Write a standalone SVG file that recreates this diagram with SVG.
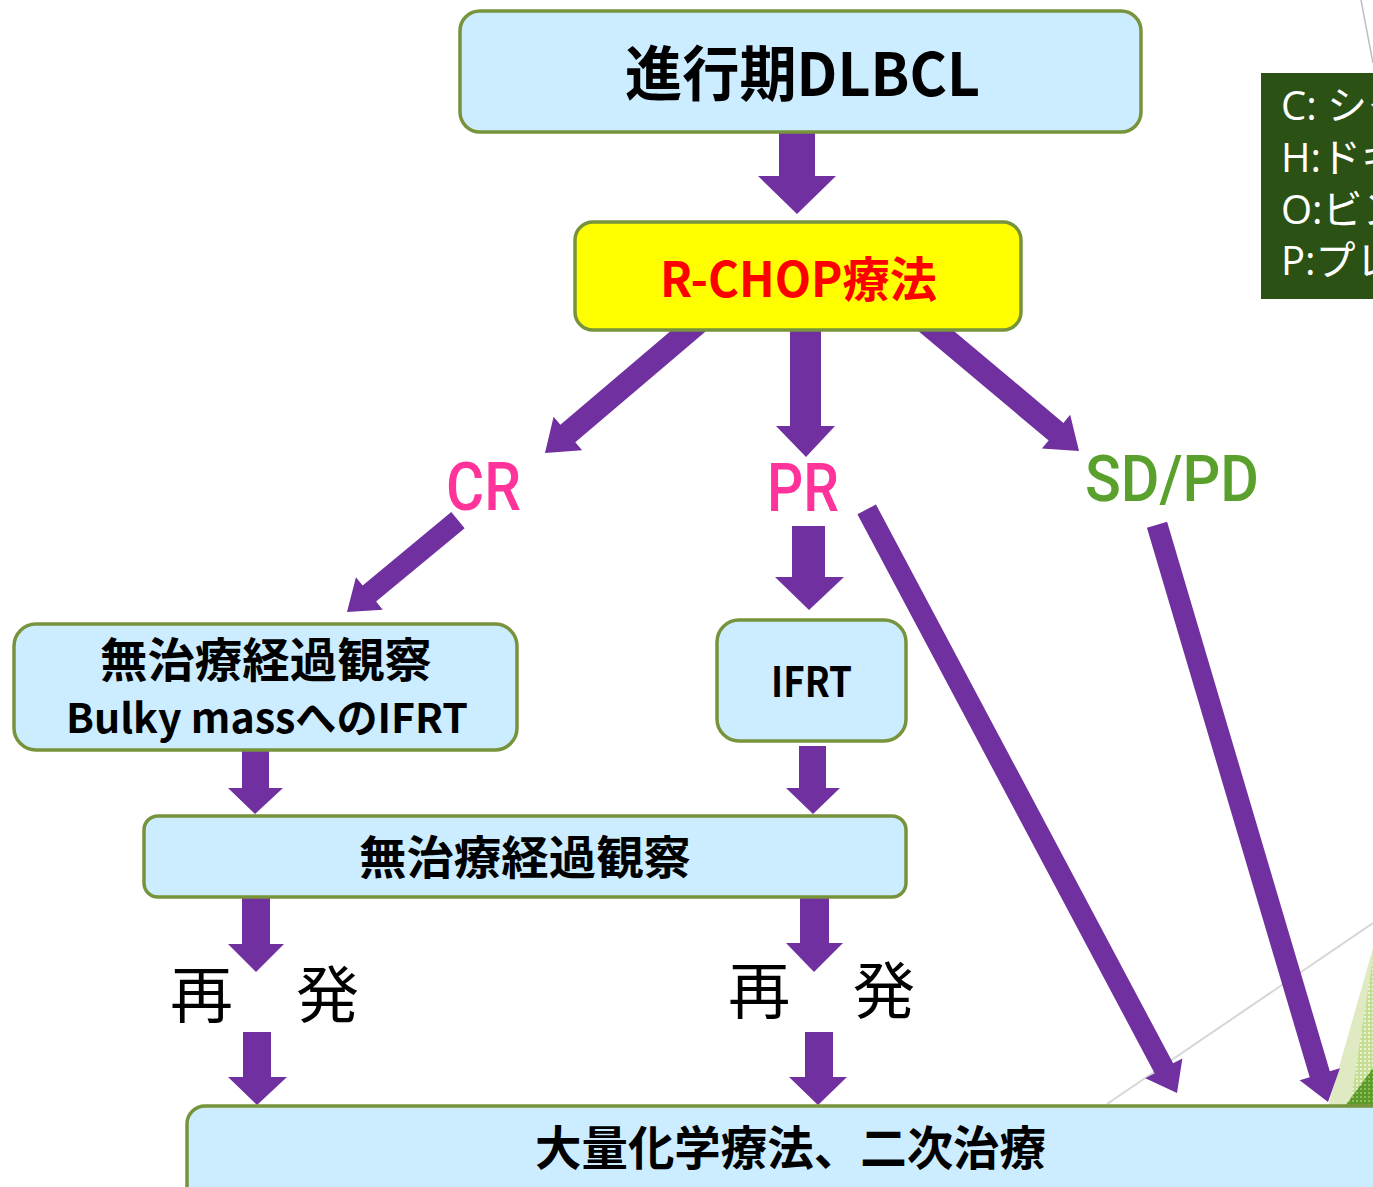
<svg xmlns="http://www.w3.org/2000/svg" width="1373" height="1187" viewBox="0 0 1373 1187">
  <style>
    .box { fill: #CCECFF; stroke: #77933C; stroke-width: 3.5; }
    .boxy { fill: #FFFF00; stroke: #77933C; stroke-width: 3.5; }
    .arr { fill: #7030A0; }
    .bt { font-family: "Noto Sans CJK JP", "Noto Sans", sans-serif; font-weight: 700; fill: #000; }
    .lab { font-family: Roboto, "Noto Sans", sans-serif; font-weight: 500; }
    .rel { font-family: "Noto Sans CJK JP", sans-serif; font-weight: 400; font-size: 62px; fill: #000; }
    .leg { font-family: "Open Sans", "Noto Sans CJK JP", sans-serif; font-size: 40px; fill: #FFFFFF; }
  </style>
  <defs>
    <pattern id="dotsLight" width="4" height="4" patternUnits="userSpaceOnUse">
      <rect width="4" height="4" fill="#c4dd92"/>
      <rect width="2" height="2" fill="#eaf3d6"/>
    </pattern>
    <pattern id="dotsDark" width="4" height="4" patternUnits="userSpaceOnUse">
      <rect width="4" height="4" fill="#5c9a2a"/>
      <rect width="2" height="2" fill="#8fbe5c"/>
    </pattern>
  </defs>
  <rect width="1373" height="1187" fill="#FFFFFF"/>

  <!-- background decoration -->
  <g id="decoration">
    <line x1="1361" y1="0" x2="1373" y2="63" stroke="#bfbfbf" stroke-width="1.5"/>
    <line x1="1107" y1="1104" x2="1373" y2="923" stroke="#d6d6d6" stroke-width="2"/>
    <polygon points="1328,1106 1373,948 1373,1106" fill="#dfeac2"/>
    <polygon points="1350,1106 1373,958 1373,1106" fill="url(#dotsLight)"/>
    <polygon points="1345,1106 1373,1068 1373,1106" fill="url(#dotsDark)"/>
  </g>

  <g id="connectors">
    <polygon class="arr" points="779,128 815,128 815,176 836,176 797,214 758,176 779,176"/>
    <path class="arr" transform="translate(545,453) rotate(139.6)" d="M0,0 L-30,-22 L-30,-11.5 L-208,-11.5 L-208,11.5 L-30,11.5 L-30,22 Z"/>
    <polygon class="arr" points="790,325 821,325 821,426 835,426 806,457 776,426 790,426"/>
    <path class="arr" transform="translate(1079,451) rotate(40)" d="M0,0 L-30,-22 L-30,-11.5 L-208,-11.5 L-208,11.5 L-30,11.5 L-30,22 Z"/>
    <path class="arr" transform="translate(347,612) rotate(140.4)" d="M0,0 L-29,-21 L-29,-10.5 L-144,-10.5 L-144,10.5 L-29,10.5 L-29,21 Z"/>
    <polygon class="arr" points="792,526 825,526 825,577 844,577 809,610 775,577 792,577"/>
    <path class="arr" transform="translate(1177,1093) rotate(62)" d="M0,0 L-28,-21 L-28,-10.5 L-661,-10.5 L-661,10.5 L-28,10.5 L-28,21 Z"/>
    <path class="arr" transform="translate(1328,1102) rotate(73.5)" d="M0,0 L-29,-21 L-29,-10.5 L-602,-10.5 L-602,10.5 L-29,10.5 L-29,21 Z"/>
    <polygon class="arr" points="242,748 269,748 269,788 283,788 255,814 228,788 242,788"/>
    <polygon class="arr" points="799,746 826,746 826,788 840,788 813,814 786,788 799,788"/>
    <polygon class="arr" points="242,895 270,895 270,944 284,944 256,972 228,944 242,944"/>
    <polygon class="arr" points="800,895 829,895 829,943 843,943 814,972 786,943 800,943"/>
    <polygon class="arr" points="243,1032 271,1032 271,1077 287,1077 257,1105 228,1077 243,1077"/>
    <polygon class="arr" points="805,1032 833,1032 833,1077 847,1077 818,1105 789,1077 805,1077"/>
  </g>

  <g id="node-dlbcl">
    <rect class="box" x="460" y="11" width="681" height="121" rx="20"/>
    <text class="bt" x="625" y="96" font-size="60" textLength="355" lengthAdjust="spacingAndGlyphs">進行期DLBCL</text>
  </g>

  <g id="node-rchop">
    <rect class="boxy" x="575" y="222" width="446" height="108" rx="18"/>
    <text class="bt" x="660" y="297" font-size="48" style="fill:#FF0000" textLength="277" lengthAdjust="spacingAndGlyphs">R-CHOP療法</text>
  </g>

  <g id="label-cr">
    <text class="lab" x="446" y="510" font-size="66" fill="#FF3399" textLength="75" lengthAdjust="spacingAndGlyphs">CR</text>
  </g>
  <g id="label-pr">
    <text class="lab" x="767" y="511" font-size="66" fill="#FF3399" textLength="72" lengthAdjust="spacingAndGlyphs">PR</text>
  </g>
  <g id="label-sdpd">
    <text class="lab" x="1085" y="501" font-size="64" fill="#5AA02C" textLength="174" lengthAdjust="spacingAndGlyphs">SD/PD</text>
  </g>

  <g id="node-observe-bulky">
    <rect class="box" x="14" y="624" width="503" height="126" rx="22"/>
    <text class="bt" x="100" y="677" font-size="47" textLength="332" lengthAdjust="spacingAndGlyphs">無治療経過観察</text>
    <text class="bt" x="66" y="733" font-size="41" textLength="402" lengthAdjust="spacingAndGlyphs">Bulky massへのIFRT</text>
  </g>

  <g id="node-ifrt">
    <rect class="box" x="717" y="620" width="189" height="121" rx="22"/>
    <text class="bt" x="771" y="697" font-size="42" textLength="81" lengthAdjust="spacingAndGlyphs">IFRT</text>
  </g>

  <g id="node-observe">
    <rect class="box" x="144" y="816" width="762" height="81" rx="14"/>
    <text class="bt" x="359" y="874" font-size="46" textLength="332" lengthAdjust="spacingAndGlyphs">無治療経過観察</text>
  </g>

  <g id="label-relapse-left">
    <text class="rel" x="170" y="1018" textLength="189" lengthAdjust="spacingAndGlyphs">再　発</text>
  </g>
  <g id="label-relapse-right">
    <text class="rel" x="728" y="1014" textLength="187" lengthAdjust="spacingAndGlyphs">再　発</text>
  </g>

  <g id="node-hdct">
    <rect class="box" x="187" y="1106" width="1240" height="120" rx="18"/>
    <text class="bt" x="535" y="1165" font-size="47" textLength="511" lengthAdjust="spacingAndGlyphs">大量化学療法、二次治療</text>
  </g>

  <g id="legend">
    <rect x="1261" y="73" width="130" height="226" fill="#2B5214"/>
    <text class="leg" x="1281" y="120">C: シク</text>
    <text class="leg" x="1281" y="172">H:ドキ</text>
    <text class="leg" x="1281" y="224">O:ビン</text>
    <text class="leg" x="1281" y="275">P:プレ</text>
  </g>
</svg>
